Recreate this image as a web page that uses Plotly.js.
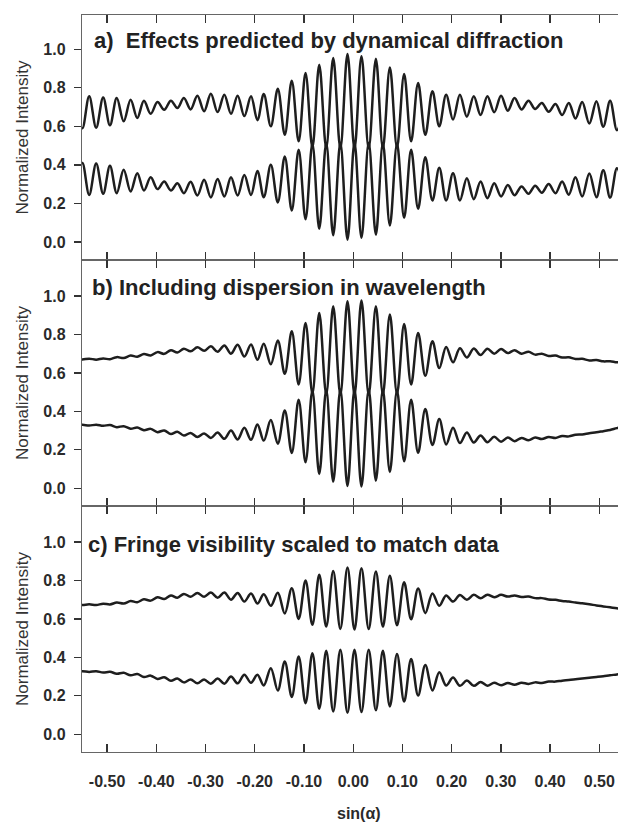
<!DOCTYPE html>
<html>
<head>
<meta charset="utf-8">
<script src="https://cdn.plot.ly/plotly-3.0.1.min.js"></script>
<style>
  html, body { margin: 0; padding: 0; background: #ffffff; }
  #chart { width: 618px; height: 823px; }
</style>
</head>
<body>
<div id="chart"></div>
<script>
// Fringe extrema positions in sin(alpha): peak, trough, peak, ... (upper curve)
const sinAlpha = [
  -0.5640, -0.5502, -0.5364, -0.5222, -0.5080, -0.4942, -0.4804, -0.4663, -0.4522, -0.4387,
  -0.4252, -0.4114, -0.3976, -0.3840, -0.3704, -0.3572, -0.3440, -0.3303, -0.3166, -0.3029,
  -0.2892, -0.2755, -0.2618, -0.2483, -0.2348, -0.2212, -0.2076, -0.1946, -0.1817, -0.1674,
  -0.1532, -0.1390, -0.1248, -0.1108, -0.0968, -0.0829, -0.0690, -0.0548, -0.0406, -0.0261,
  -0.0116,  0.0026,  0.0168,  0.0315,  0.0461,  0.0603,  0.0745,  0.0890,  0.1035,  0.1177,
   0.1319,  0.1465,  0.1610,  0.1749,  0.1888,  0.2028,  0.2168,  0.2309,  0.2450,  0.2588,
   0.2726,  0.2865,  0.3004,  0.3141,  0.3278,  0.3420,  0.3562,  0.3697,  0.3832,  0.3971,
   0.4110,  0.4245,  0.4380,  0.4516,  0.4652,  0.4797,  0.4942,  0.5081,  0.5220,  0.5358,
   0.5500
];

// a) dynamical diffraction
const upperA = [
  0.756, 0.590, 0.756, 0.593, 0.750, 0.605, 0.747, 0.626, 0.738, 0.643,
  0.733, 0.665, 0.726, 0.686, 0.733, 0.695, 0.747, 0.688, 0.759, 0.678,
  0.769, 0.674, 0.764, 0.665, 0.759, 0.653, 0.756, 0.632, 0.768, 0.600,
  0.795, 0.556, 0.837, 0.522, 0.877, 0.490, 0.920, 0.487, 0.955, 0.485,
  0.976, 0.484, 0.964, 0.485, 0.951, 0.487, 0.906, 0.490, 0.872, 0.522,
  0.825, 0.556, 0.782, 0.600, 0.764, 0.635, 0.764, 0.650, 0.756, 0.659,
  0.756, 0.673, 0.759, 0.681, 0.747, 0.688, 0.733, 0.690, 0.721, 0.676,
  0.716, 0.659, 0.721, 0.641, 0.726, 0.615, 0.730, 0.598, 0.733, 0.580,
  0.735
];
const lowerA = [
  0.244, 0.410, 0.244, 0.407, 0.250, 0.395, 0.253, 0.374, 0.262, 0.357,
  0.267, 0.335, 0.274, 0.314, 0.267, 0.305, 0.253, 0.312, 0.241, 0.322,
  0.231, 0.326, 0.236, 0.335, 0.241, 0.347, 0.244, 0.368, 0.232, 0.400,
  0.205, 0.444, 0.163, 0.478, 0.118, 0.510, 0.068, 0.513, 0.035, 0.515,
  0.012, 0.516, 0.022, 0.515, 0.038, 0.513, 0.085, 0.510, 0.125, 0.478,
  0.172, 0.440, 0.215, 0.385, 0.215, 0.357, 0.215, 0.331, 0.222, 0.314,
  0.227, 0.305, 0.236, 0.295, 0.242, 0.288, 0.250, 0.292, 0.255, 0.300,
  0.253, 0.314, 0.245, 0.335, 0.236, 0.355, 0.232, 0.372, 0.230, 0.383,
  0.229
];

// b) with wavelength dispersion
const upperB = [
  0.674, 0.670, 0.674, 0.669, 0.675, 0.671, 0.682, 0.677, 0.690, 0.684,
  0.698, 0.691, 0.708, 0.699, 0.718, 0.706, 0.726, 0.712, 0.733, 0.715,
  0.738, 0.710, 0.743, 0.700, 0.746, 0.685, 0.748, 0.668, 0.752, 0.645,
  0.768, 0.595, 0.816, 0.540, 0.860, 0.492, 0.912, 0.488, 0.946, 0.486,
  0.972, 0.485, 0.976, 0.486, 0.946, 0.488, 0.903, 0.492, 0.854, 0.540,
  0.808, 0.585, 0.764, 0.625, 0.735, 0.655, 0.728, 0.680, 0.727, 0.693,
  0.726, 0.700, 0.724, 0.703, 0.718, 0.700, 0.710, 0.695, 0.700, 0.688,
  0.690, 0.680, 0.681, 0.672, 0.673, 0.665, 0.667, 0.660, 0.661, 0.655,
  0.656
];
const lowerB = [
  0.326, 0.330, 0.326, 0.331, 0.325, 0.329, 0.318, 0.323, 0.310, 0.316,
  0.302, 0.309, 0.292, 0.301, 0.282, 0.294, 0.274, 0.288, 0.267, 0.285,
  0.262, 0.290, 0.257, 0.300, 0.254, 0.315, 0.252, 0.332, 0.248, 0.355,
  0.232, 0.405, 0.184, 0.460, 0.135, 0.508, 0.075, 0.512, 0.035, 0.514,
  0.012, 0.515, 0.010, 0.514, 0.040, 0.512, 0.085, 0.508, 0.140, 0.460,
  0.185, 0.412, 0.225, 0.360, 0.228, 0.315, 0.235, 0.290, 0.238, 0.275,
  0.240, 0.268, 0.242, 0.264, 0.245, 0.262, 0.250, 0.264, 0.256, 0.267,
  0.262, 0.272, 0.270, 0.278, 0.280, 0.286, 0.291, 0.297, 0.303, 0.313,
  0.320
];

// c) fringe visibility scaled
const upperC = [
  0.675, 0.672, 0.676, 0.672, 0.679, 0.675, 0.685, 0.680, 0.693, 0.687,
  0.702, 0.695, 0.712, 0.703, 0.722, 0.710, 0.730, 0.715, 0.735, 0.715,
  0.737, 0.710, 0.737, 0.700, 0.735, 0.690, 0.732, 0.680, 0.728, 0.668,
  0.736, 0.628, 0.760, 0.600, 0.800, 0.569, 0.829, 0.560, 0.849, 0.548,
  0.867, 0.545, 0.863, 0.548, 0.846, 0.560, 0.825, 0.567, 0.790, 0.598,
  0.758, 0.630, 0.732, 0.668, 0.722, 0.690, 0.724, 0.700, 0.725, 0.707,
  0.726, 0.713, 0.725, 0.716, 0.722, 0.714, 0.716, 0.708, 0.708, 0.701,
  0.699, 0.693, 0.690, 0.685, 0.681, 0.676, 0.670, 0.665, 0.660, 0.655,
  0.651
];
const lowerC = [
  0.325, 0.328, 0.324, 0.328, 0.321, 0.325, 0.315, 0.320, 0.307, 0.313,
  0.298, 0.305, 0.288, 0.297, 0.278, 0.290, 0.270, 0.285, 0.265, 0.285,
  0.263, 0.290, 0.263, 0.300, 0.265, 0.310, 0.268, 0.310, 0.254, 0.344,
  0.228, 0.379, 0.194, 0.405, 0.162, 0.422, 0.133, 0.434, 0.119, 0.439,
  0.112, 0.440, 0.116, 0.439, 0.125, 0.434, 0.145, 0.418, 0.170, 0.392,
  0.202, 0.360, 0.228, 0.322, 0.254, 0.295, 0.252, 0.280, 0.252, 0.272,
  0.253, 0.268, 0.255, 0.267, 0.258, 0.268, 0.262, 0.270, 0.267, 0.274,
  0.274, 0.279, 0.282, 0.286, 0.290, 0.294, 0.298, 0.302, 0.307, 0.311,
  0.316
];

const xTickVals = [-0.5, -0.4, -0.3, -0.2, -0.1, 0, 0.1, 0.2, 0.3, 0.4, 0.5];
const xTickText = ["-0.50", "-0.40", "-0.30", "-0.20", "-0.10", "0.00", "0.10", "0.20", "0.30", "0.40", "0.50"];
const yTickVals = [0, 0.2, 0.4, 0.6, 0.8, 1.0];
const yTickText = ["0.0", "0.2", "0.4", "0.6", "0.8", "1.0"];
const panelTitles = [
  "a)  Effects predicted by dynamical diffraction",
  "b) Including dispersion in wavelength",
  "c) Fringe visibility scaled to match data"
];
const yTitleText = "Normalized Intensity";
const xTitleText = "sin(α)";

const FONT = "Liberation Sans, Arial, Helvetica, sans-serif";
const INK = "#1e1e1e";

const panels = [
  { upper: upperA, lower: lowerA, xa: "x",  ya: "y"  },
  { upper: upperB, lower: lowerB, xa: "x2", ya: "y2" },
  { upper: upperC, lower: lowerC, xa: "x3", ya: "y3" }
];

const traces = [];
panels.forEach(p => {
  [p.upper, p.lower].forEach(series => {
    traces.push({
      type: "scatter", mode: "lines",
      x: sinAlpha, y: series,
      xaxis: p.xa, yaxis: p.ya,
      line: { color: INK, width: 2.5, shape: "spline", smoothing: 1 },
      hoverinfo: "skip", showlegend: false
    });
  });
});

const xRange = [-0.551, 0.538];
function xAxis(extra) {
  return Object.assign({
    range: xRange, domain: [0, 1],
    tickmode: "array", tickvals: xTickVals, ticktext: xTickText,
    ticks: "inside", ticklen: 8, tickwidth: 1.3, tickcolor: "#333",
    showline: true, linecolor: "#666", linewidth: 1.2, mirror: "ticks",
    showgrid: false, zeroline: false, showticklabels: false, fixedrange: true
  }, extra);
}
function yAxis(domain, range, extra) {
  return Object.assign({
    domain: domain, range: range,
    tickmode: "array", tickvals: yTickVals, ticktext: yTickText,
    ticks: "outside", ticklen: 7, tickwidth: 1.3, tickcolor: "#333",
    showline: true, linecolor: "#666", linewidth: 1.2, mirror: false,
    showgrid: false, zeroline: false, fixedrange: true,
    tickfont: { family: FONT, size: 16, color: "#2a2a2a", weight: "bold" },
    ticklabelstandoff: 5,
    title: { text: yTitleText, standoff: 10,
             font: { family: FONT, size: 17, color: "#333" } }
  }, extra);
}

const titleFont = { family: FONT, size: 22, color: "#222", weight: "bold" };

const layout = {
  width: 618, height: 823,
  margin: { l: 82, r: 0, t: 15, b: 71, pad: 0 },
  paper_bgcolor: "#ffffff", plot_bgcolor: "#ffffff",
  showlegend: false,
  xaxis:  xAxis({ anchor: "y" }),
  xaxis2: xAxis({ anchor: "y2" }),
  xaxis3: xAxis({
    anchor: "y3", showticklabels: true,
    tickfont: { family: FONT, size: 16, color: "#2a2a2a", weight: "bold" },
    ticklabelstandoff: 15
  }),
  // downward half of the crossing ticks along the bottom edge
  xaxis4: {
    overlaying: "x3", anchor: "y3", side: "bottom", range: xRange,
    tickmode: "array", tickvals: xTickVals, ticks: "outside", ticklen: 8,
    tickwidth: 1.3, tickcolor: "#333", showline: false, showgrid: false,
    zeroline: false, showticklabels: false, fixedrange: true
  },
  yaxis:  yAxis([0.66757, 1.0], [-0.094, 1.178]),
  yaxis2: yAxis([0.33379, 0.66757], [-0.092, 1.187]),
  yaxis3: yAxis([0.0, 0.33379], [-0.092, 1.187]),
  annotations: [
    { text: panelTitles[0], xref: "paper", yref: "paper", x: 0.019, y: 0.9651,
      xanchor: "left", yanchor: "middle", showarrow: false, font: titleFont },
    { text: panelTitles[1], xref: "paper", yref: "paper", x: 0.015, y: 0.6309,
      xanchor: "left", yanchor: "middle", showarrow: false, font: titleFont },
    { text: panelTitles[2], xref: "paper", yref: "paper", x: 0.008, y: 0.2822,
      xanchor: "left", yanchor: "middle", showarrow: false, font: titleFont },
    { text: xTitleText, xref: "x3", yref: "paper", x: 0.012, y: -0.084,
      xanchor: "center", yanchor: "middle", showarrow: false,
      font: { family: FONT, size: 16, color: "#2a2a2a", weight: "bold" } }
  ]
};

Plotly.newPlot("chart", traces, layout, { staticPlot: true, displayModeBar: false });
</script>
</body>
</html>
